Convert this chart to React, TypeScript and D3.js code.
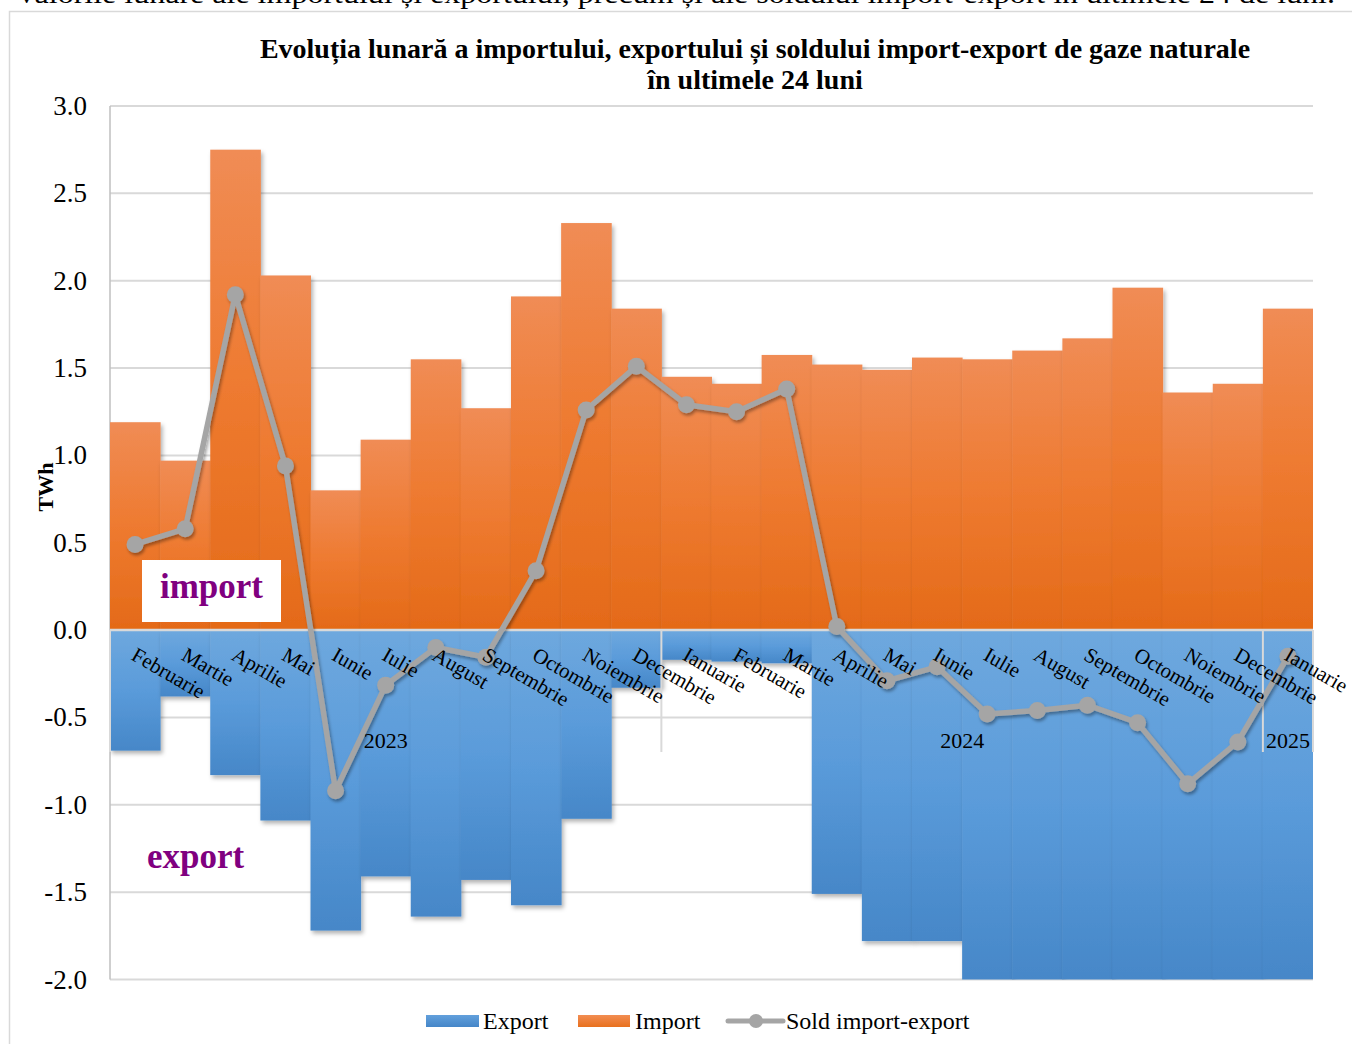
import React from "react";
import * as d3 from "d3";

const months = [
  "Februarie", "Martie", "Aprilie", "Mai", "Iunie", "Iulie", "August", "Septembrie", "Octombrie", "Noiembrie", "Decembrie",
  "Ianuarie", "Februarie", "Martie", "Aprilie", "Mai", "Iunie", "Iulie", "August", "Septembrie", "Octombrie", "Noiembrie", "Decembrie",
  "Ianuarie",
];
const years = [
  { label: "2023", start: 0, count: 11 },
  { label: "2024", start: 11, count: 12 },
  { label: "2025", start: 23, count: 1 },
];
const importValues = [
  1.19, 0.97, 2.75, 2.03, 0.8, 1.09, 1.55, 1.27, 1.91, 2.33, 1.84,
  1.45, 1.41, 1.575, 1.52, 1.49, 1.56, 1.55, 1.6, 1.67, 1.96, 1.36, 1.41,
  1.84,
];
const exportValues = [
  -0.69, -0.38, -0.83, -1.09, -1.72, -1.41, -1.64, -1.43, -1.575, -1.08, -0.33,
  -0.17, -0.18, -0.19, -1.51, -1.78, -1.78, -2.03, -2.07, -2.1, -2.5, -2.24, -2.05,
  -2.0,
];
const soldValues = [
  0.49, 0.58, 1.92, 0.94, -0.92, -0.315, -0.1, -0.155, 0.34, 1.26, 1.51,
  1.29, 1.25, 1.38, 0.02, -0.29, -0.21, -0.48, -0.46, -0.43, -0.53, -0.88, -0.64,
  -0.15,
];
const yTicks = [3.0, 2.5, 2.0, 1.5, 1.0, 0.5, 0.0, -0.5, -1.0, -1.5, -2.0];

const FONT = "'Liberation Serif', 'Times New Roman', serif";

export default function App() {
  const W = 1352, H = 1044;
  const left = 110, right = 1313, top = 106, bottom = 979.5;
  const idx = months.map((_, i) => i);
  const x = d3.scaleBand<number>().domain(idx).range([left, right]).padding(0);
  const y = d3.scaleLinear().domain([-2, 3]).range([bottom, top]);
  const bw = x.bandwidth();
  const cx = (i: number) => (x(i) as number) + bw / 2;
  const line = d3.line<number>().x((_, i) => cx(i)).y((d) => y(d));
  const y0 = y(0);

  return (
    <svg width={W} height={H} style={{ position: "absolute", left: 0, top: 0, background: "#fff" }} fontFamily={FONT}>
      <defs>
        <linearGradient id="gImp" x1="0" y1="0" x2="0" y2="1">
          <stop offset="0" stopColor="#F08C55" />
          <stop offset="0.5" stopColor="#EE7A30" />
          <stop offset="1" stopColor="#E46A18" />
        </linearGradient>
        <linearGradient id="gExp" x1="0" y1="0" x2="0" y2="1">
          <stop offset="0" stopColor="#6EA8DE" />
          <stop offset="0.5" stopColor="#5A9BDA" />
          <stop offset="1" stopColor="#4687C8" />
        </linearGradient>
        <linearGradient id="gLegImp" x1="0" y1="0" x2="0" y2="1">
          <stop offset="0" stopColor="#F28D52" />
          <stop offset="1" stopColor="#E8701E" />
        </linearGradient>
        <linearGradient id="gLegExp" x1="0" y1="0" x2="0" y2="1">
          <stop offset="0" stopColor="#62A0DC" />
          <stop offset="1" stopColor="#4586C8" />
        </linearGradient>
        <filter id="shadow" x="-20%" y="-20%" width="140%" height="140%">
          <feDropShadow dx="2" dy="3" stdDeviation="2" floodColor="#000" floodOpacity="0.3" />
        </filter>
        <filter id="lshadow" x="-10%" y="-10%" width="120%" height="120%">
          <feDropShadow dx="1.5" dy="2.5" stdDeviation="1.8" floodColor="#000" floodOpacity="0.35" />
        </filter>
        <clipPath id="plotClip">
          <rect x={left} y={top - 2} width={right - left} height={bottom - top + 2} />
        </clipPath>
      </defs>

      {/* top caption (cut off in the reference) */}
      <text x={15} y={3} fontSize={27} fill="#000" textLength={1320} lengthAdjust="spacingAndGlyphs">
        Valorile lunare ale importului și exportului, precum și ale soldului import-export în ultimele 24 de luni.
      </text>

      {/* chart frame */}
      <path d={`M9.5,${H} V11.5 H${W}`} fill="none" stroke="#D9D9D9" strokeWidth={1.5} />

      {/* title */}
      <text x={755} y={58} textAnchor="middle" fontSize={28} fontWeight="bold">
        Evoluția lunară a importului, exportului și soldului import-export de gaze naturale
      </text>
      <text x={755} y={89} textAnchor="middle" fontSize={28} fontWeight="bold">
        în ultimele 24 luni
      </text>

      {/* gridlines */}
      {yTicks.map((t) => (
        <line key={t} x1={left} x2={right} y1={y(t)} y2={y(t)} stroke="#D9D9D9" strokeWidth={2} />
      ))}
      <line x1={left} x2={left} y1={top} y2={bottom} stroke="#BFBFBF" strokeWidth={1.5} />

      {/* y tick labels */}
      {yTicks.map((t) => (
        <text key={t} x={87} y={y(t) + 9} textAnchor="end" fontSize={27}>
          {t.toFixed(1)}
        </text>
      ))}
      <text transform="translate(53,487) rotate(-90)" textAnchor="middle" fontSize={22} fontWeight="bold">
        TWh
      </text>

      {/* bars */}
      <g clipPath="url(#plotClip)">
        {importValues.map((v, i) => (
          <rect key={"i" + i} x={x(i)} y={y(v)} width={bw + 0.5} height={y0 - y(v)} fill="url(#gImp)" filter="url(#shadow)" />
        ))}
        {exportValues.map((v, i) => (
          <rect key={"e" + i} x={x(i)} y={y0} width={bw + 0.5} height={y(Math.max(v, -2.02)) - y0} fill="url(#gExp)" filter="url(#shadow)" />
        ))}
      </g>

      {/* zero axis */}
      <line x1={left} x2={right} y1={y0} y2={y0} stroke="#D9D9D9" strokeWidth={2.5} />
      {/* category separators */}
      {[0, 11, 23, 24].map((k) => {
        const xx = k < 24 ? (x(k) as number) : right;
        return <line key={k} x1={xx} x2={xx} y1={y0} y2={752} stroke="#D9D9D9" strokeWidth={2} />;
      })}

      {/* sold line */}
      <g filter="url(#lshadow)">
        <path d={line(soldValues) || ""} fill="none" stroke="#A5A5A5" strokeWidth={5.5} strokeLinejoin="round" />
        {soldValues.map((v, i) => (
          <circle key={"c" + i} cx={cx(i)} cy={y(v)} r={8.5} fill="#A5A5A5" />
        ))}
      </g>

      {/* category labels (drawn above the line) */}
      {months.map((m, i) => (
        <text key={"m" + i} transform={`translate(${cx(i) - 5},${659}) rotate(30)`} fontSize={21} fill="#000">
          {m}
        </text>
      ))}
      {years.map((yr) => {
        const xs = x(yr.start) as number;
        const xe = xs + bw * yr.count;
        return (
          <text key={yr.label} x={(xs + xe) / 2} y={748} textAnchor="middle" fontSize={22}>
            {yr.label}
          </text>
        );
      })}

      {/* annotations */}
      <rect x={142} y={560} width={139} height={62} fill="#fff" />
      <text x={211.5} y={598} textAnchor="middle" fontSize={35} fontWeight="bold" fill="#800080">
        import
      </text>
      <text x={147} y={868} fontSize={35} fontWeight="bold" fill="#800080">
        export
      </text>

      {/* legend */}
      <rect x={426} y={1015} width={53} height={12} fill="url(#gLegExp)" />
      <text x={483} y={1029} fontSize={24}>Export</text>
      <rect x={578} y={1015} width={52} height={12} fill="url(#gLegImp)" />
      <text x={635} y={1029} fontSize={24}>Import</text>
      <line x1={728} x2={783} y1={1021} y2={1021} stroke="#A5A5A5" strokeWidth={5} strokeLinecap="round" />
      <circle cx={756} cy={1021} r={7} fill="#A5A5A5" />
      <text x={786} y={1029} fontSize={24}>Sold import-export</text>
    </svg>
  );
}
